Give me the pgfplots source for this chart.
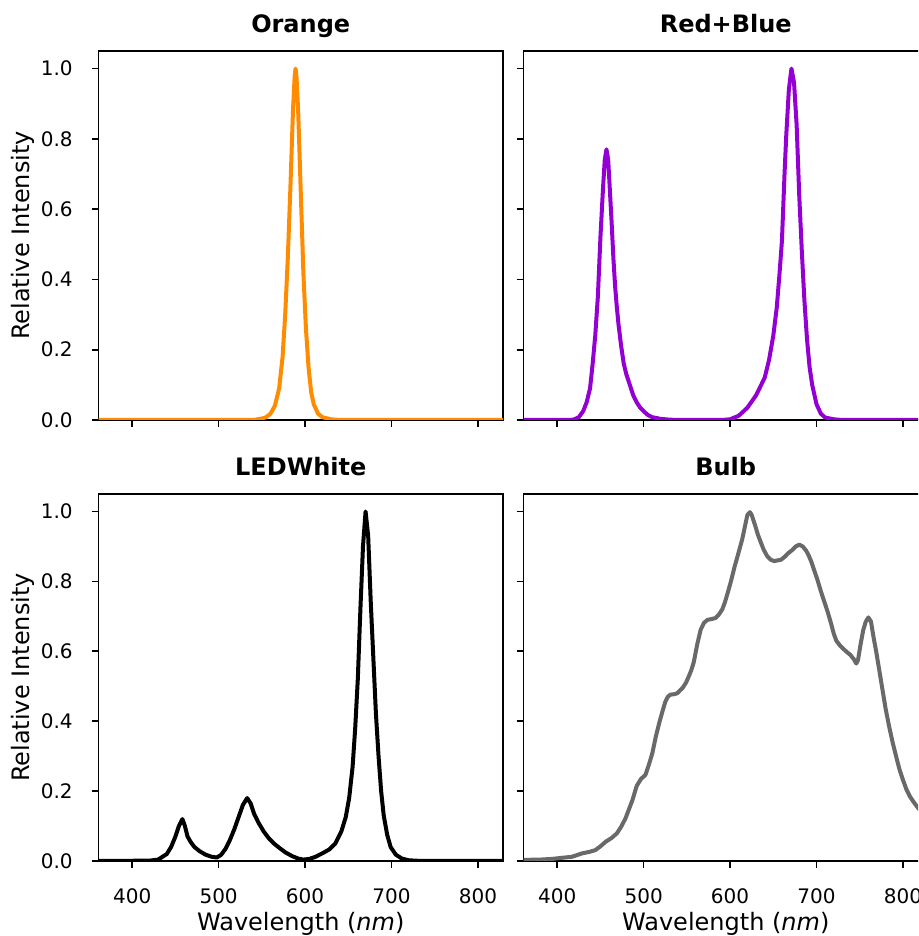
\documentclass[border=0pt]{standalone}
\usepackage{pgfplots}
\pgfplotsset{compat=1.18}
\usepackage{fontspec}
\setmainfont{DejaVu Sans}
\definecolor{corange}{RGB}{255,140,0}
\definecolor{cviolet}{RGB}{148,0,211}
\definecolor{cgray}{RGB}{105,105,105}

\pgfplotsset{
  myax/.style={
    scale only axis, width=202.25pt,
    xmin=361, xmax=829, ymin=0, ymax=1.05,
    xtick={400,500,600,700,800},
    ytick={0,0.2,0.4,0.6,0.8,1.0},
    axis line style={line width=0.8pt, black},
    tick style={line width=0.8pt, black},
    major tick length=3.5pt, tick align=outside,
    xtick pos=bottom, ytick pos=left,
    /pgf/number format/assume math mode=true,
    tick label style={font=\fontsize{10}{12}\selectfont},
    yticklabel style={anchor=east, inner sep=0pt, xshift=-9.25pt,
      /pgf/number format/.cd, fixed, fixed zerofill, precision=1},
    xticklabel style={anchor=north, inner sep=0pt, yshift=-10.3pt},
    every axis title/.style={at={(axis description cs:0.5,1.0504)}, anchor=base,
      font=\bfseries\fontsize{12}{14}\selectfont},
    every axis y label/.style={at={(axis description cs:-0.1706,0.5)}, rotate=90, anchor=base,
      font=\fontsize{12}{14}\selectfont},
    every axis x label/.style={at={(axis description cs:0.5,-0.1907)}, anchor=base,
      font=\fontsize{12}{14}\selectfont},
    every axis plot/.append style={line width=2pt, line join=round, no markers},
  }
}

\begin{document}
\begin{tikzpicture}
\useasboundingbox (0,0) rectangle (459pt,468pt);
\clip (0,0) rectangle (459pt,468pt);

% Orange
\begin{axis}[myax, at={(49.25pt,258pt)}, anchor=south west, height=184.5pt,
  title={Orange}, ylabel={Relative Intensity}, xticklabels={}]
\addplot[corange] coordinates {
(355,0) (540,0) (550,0.004) (555,0.008) (560,0.018) (565,0.04) (570,0.09)
(574,0.18) (577,0.30) (580,0.46) (583,0.66) (586,0.88) (588,0.98) (589,1.0)
(590,0.98) (592,0.88) (595,0.65) (598,0.42) (601,0.26) (604,0.15) (607,0.08)
(610,0.045) (615,0.018) (620,0.008) (630,0.002) (640,0) (835,0)
};
\end{axis}

% Red+Blue
\begin{axis}[myax, at={(261.75pt,258pt)}, anchor=south west, height=184.5pt,
  title={Red+Blue}, xticklabels={}, yticklabels={}]
\addplot[cviolet] coordinates {
(355,0) (415,0) (420,0.002) (425,0.008) (430,0.025) (434,0.05) (438,0.09)
(441,0.16) (444,0.24) (447,0.35) (450,0.52) (453,0.66) (455,0.74) (457,0.77)
(459,0.74) (461,0.65) (463,0.56) (465,0.46) (467,0.38) (469,0.32) (471,0.27)
(474,0.21) (477,0.16) (480,0.13) (484,0.10) (488,0.07) (492,0.05) (496,0.035)
(500,0.025) (505,0.014) (510,0.008) (520,0.003) (530,0.001) (540,0)
(590,0) (600,0.002) (610,0.012) (620,0.035) (630,0.07) (640,0.12) (645,0.17)
(650,0.24) (654,0.32) (657,0.41) (660,0.51) (663,0.70) (665,0.81) (668,0.94)
(671,1.0) (674,0.96) (677,0.84) (680,0.64) (683,0.48) (686,0.34) (689,0.23)
(692,0.15) (695,0.10) (700,0.045) (705,0.018) (710,0.007) (720,0.002) (730,0) (835,0)
};
\end{axis}

% LEDWhite
\begin{axis}[myax, at={(49.25pt,37.5pt)}, anchor=south west, height=183.5pt,
  title={LEDWhite}, ylabel={Relative Intensity}, xlabel={Wavelength (\textit{nm})}]
\addplot[black] coordinates {
(355,0) (420,0.001) (430,0.004) (440,0.02) (445,0.04) (450,0.07) (454,0.10)
(458,0.12) (461,0.10) (464,0.07) (468,0.053) (472,0.04) (478,0.028) (485,0.018)
(492,0.012) (498,0.01) (503,0.018) (508,0.035) (513,0.06) (518,0.09) (523,0.125)
(528,0.16) (533,0.18) (537,0.165) (541,0.135) (546,0.11) (552,0.085) (558,0.065)
(564,0.05) (570,0.038) (577,0.025) (585,0.014) (592,0.007) (598,0.004) (605,0.006)
(612,0.012) (620,0.022) (628,0.033) (635,0.05) (642,0.085) (647,0.125) (651,0.18)
(655,0.27) (658,0.38) (661,0.52) (664,0.72) (667,0.90) (670,1.0) (673,0.93)
(676,0.74) (679,0.58) (682,0.42) (685,0.30) (688,0.20) (691,0.13) (695,0.075)
(699,0.04) (705,0.018) (712,0.007) (720,0.002) (735,0) (835,0)
};
\end{axis}

% Bulb
\begin{axis}[myax, at={(261.75pt,37.5pt)}, anchor=south west, height=183.5pt,
  title={Bulb}, xlabel={Wavelength (\textit{nm})}, yticklabels={}]
\addplot[cgray] coordinates {
(355,0.003) (380,0.004) (394,0.006) (405,0.009) (417,0.012) (429,0.022) (437,0.026)
(444,0.031) (450,0.042) (456,0.055) (463,0.066) (469,0.079) (474,0.098) (479,0.122)
(483,0.148) (487,0.174) (492,0.215) (497,0.235) (502,0.246) (506,0.275) (510,0.308)
(514,0.355) (518,0.395) (522,0.43) (525,0.455) (528,0.47) (531,0.476) (535,0.477)
(539,0.48) (542,0.488) (545,0.495) (549,0.51) (552,0.527) (555,0.545) (558,0.569)
(562,0.62) (566,0.662) (570,0.682) (574,0.69) (578,0.692) (583,0.695) (587,0.705)
(591,0.72) (594,0.74) (597,0.765) (601,0.80) (605,0.84) (609,0.875) (614,0.92)
(617,0.955) (620,0.99) (623,0.998) (625,0.99) (627,0.975) (629,0.96) (632,0.935)
(635,0.915) (639,0.89) (643,0.872) (647,0.862) (651,0.858) (655,0.86) (659,0.862)
(663,0.87) (667,0.88) (672,0.89) (676,0.9) (680,0.905) (684,0.9) (688,0.888)
(691,0.874) (694,0.856) (697,0.834) (701,0.805) (705,0.772) (709,0.742) (713,0.712)
(717,0.678) (720,0.65) (723,0.63) (727,0.617) (731,0.607) (735,0.598) (739,0.59)
(743,0.578) (746,0.565) (748,0.575) (751,0.62) (754,0.66) (757,0.685) (760,0.697)
(763,0.685) (766,0.64) (769,0.60) (772,0.555) (776,0.495) (780,0.435) (784,0.385)
(788,0.34) (792,0.30) (796,0.262) (800,0.232) (804,0.205) (808,0.185) (812,0.17)
(818,0.15) (826,0.13) (835,0.115)
};
\end{axis}
\end{tikzpicture}
\end{document}
